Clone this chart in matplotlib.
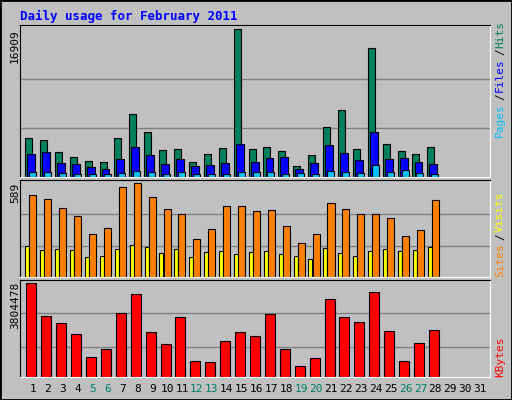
import matplotlib
matplotlib.use("Agg")
import matplotlib.pyplot as plt
import numpy as np

days = list(range(1, 32))
weekends = [5, 6, 12, 13, 19, 20, 26, 27]
hits = [4515, 4285, 2908, 2334, 1875, 1760, 4515, 7269, 5203, 3137, 3252, 1760, 2678, 3367,
        16909, 3252, 3482, 3022, 1301, 2563, 5777, 7728, 3252, 14730, 3826, 3022, 2678, 3482]
files = [2678, 2908, 1645, 1530, 1186, 957, 2104, 3482, 2563, 1530, 2104, 1301, 1416, 1645,
         3826, 1760, 2219, 2334, 957, 1645, 3711, 2793, 1990, 5203, 2104, 2219, 1760, 1530]
pages = [612, 612, 497, 383, 383, 383, 497, 727, 612, 383, 612, 383, 383, 383,
         612, 612, 612, 383, 497, 383, 727, 612, 497, 1416, 612, 842, 497, 383]
sites = [512, 487, 429, 384, 269, 307, 563, 589, 499, 423, 391, 237, 301, 442,
         442, 410, 416, 320, 211, 269, 461, 423, 397, 391, 371, 256, 294, 480]
visits = [192, 166, 173, 166, 122, 134, 173, 198, 186, 147, 173, 128, 154, 160,
          141, 154, 160, 141, 134, 115, 179, 147, 134, 160, 173, 160, 166, 186]
kbytes = [3804478, 2471530, 2179945, 1721740, 805330, 1138570, 2596495, 3346285, 1805050,
          1346845, 2429875, 638710, 597055, 1471810, 1805050, 1638430, 2554840, 1138570,
          430435, 763675, 3138010, 2429875, 2221600, 3429595, 1846705, 638710, 1388500, 1888360]

W, H = 512, 400
BG = '#c0c0c0'
MONO = 'DejaVu Sans Mono'
fig = plt.figure(figsize=(W / 100, H / 100), dpi=100)
fig.patch.set_facecolor(BG)
fig.patches.append(plt.Rectangle((0, 0), 1, 1, transform=fig.transFigure,
                                 fill=False, edgecolor='black', linewidth=2))

fig.text(20 / W, 1 - 16 / H, "Daily usage for February 2011", color='#0000ff',
         fontsize=9, fontweight='bold', family=MONO, va='center')

x = np.arange(1, 29)
left, right = 20 / W, 490 / W

def panel(top, bottom):
    ax = fig.add_axes([left, 1 - bottom / H, right - left, (bottom - top) / H])
    ax.set_facecolor(BG)
    ax.set_xlim(0.13, 31.67)
    ax.set_xticks([])
    ax.set_yticks([])
    for s in ['top', 'left']:
        ax.spines[s].set_color('black')
    for s in ['bottom', 'right']:
        ax.spines[s].set_color('white')
    return ax

def side_labels(parts):
    for txt, col, yb in parts:
        fig.text(500 / W, yb / H, txt, color=col, rotation=90, fontsize=8, family=MONO,
                 ha='center', va='bottom')

kw = dict(edgecolor='black', linewidth=0.8)

# hits / files / pages
ax1 = panel(25, 177)
ax1.set_ylim(0, 16909 * 1.03)
for g in [16909 / 3, 16909 * 2 / 3]:
    ax1.axhline(g, color='#808080', linewidth=1, zorder=0)
ax1.bar(x - 0.30, hits, width=0.47, color='#00805c', **kw)
ax1.bar(x - 0.13, files, width=0.53, color='#0000ff', **kw)
ax1.bar(x - 0.03, pages, width=0.47, color='#00c0ff', **kw)
fig.text(15 / W, 1 - 29 / H, "16909", rotation=90, fontsize=8, family=MONO, va='top', ha='center')
side_labels([("Pages", '#00c0ff', 400 - 137), ("/", 'black', 400 - 100),
             ("Files", '#0000ff', 400 - 92), ("/", 'black', 400 - 55),
             ("Hits", '#00805c', 400 - 48)])

# sites / visits
ax2 = panel(180, 277)
ax2.set_ylim(0, 589 * 1.03)
for g in [589 / 3, 589 * 2 / 3]:
    ax2.axhline(g, color='#808080', linewidth=1, zorder=0)
ax2.bar(x - 0.38, visits, width=0.27, color='#ffff00', **kw)
ax2.bar(x + 0.0, sites, width=0.47, color='#ff8000', **kw)
fig.text(15 / W, 1 - 183 / H, "589", rotation=90, fontsize=8, family=MONO, va='top', ha='center')
side_labels([("Sites", '#ff8000', 400 - 277), ("/", 'black', 400 - 240),
             ("Visits", '#ffff00', 400 - 232)])

# kbytes
ax3 = panel(280, 377)
ax3.set_ylim(0, 3804478 * 1.03)
for g in [3804478 * 0.32, 3804478 * 0.68]:
    ax3.axhline(g, color='#808080', linewidth=1, zorder=0)
ax3.bar(x - 0.1, kbytes, width=0.67, color='#ff0000', **kw)
fig.text(15 / W, 1 - 282 / H, "3804478", rotation=90, fontsize=8, family=MONO, va='top', ha='center')
side_labels([("KBytes", '#ff0000', 400 - 377)])

# day labels
for d in days:
    col = '#008060' if d in weekends else 'black'
    xf = left + (d - 0.13) / (31.67 - 0.13) * (right - left)
    fig.text(xf, 1 - 389 / H, str(d), color=col, fontsize=8, family=MONO, ha='center', va='center')

fig.savefig("out.png", dpi=100, facecolor=fig.get_facecolor())
